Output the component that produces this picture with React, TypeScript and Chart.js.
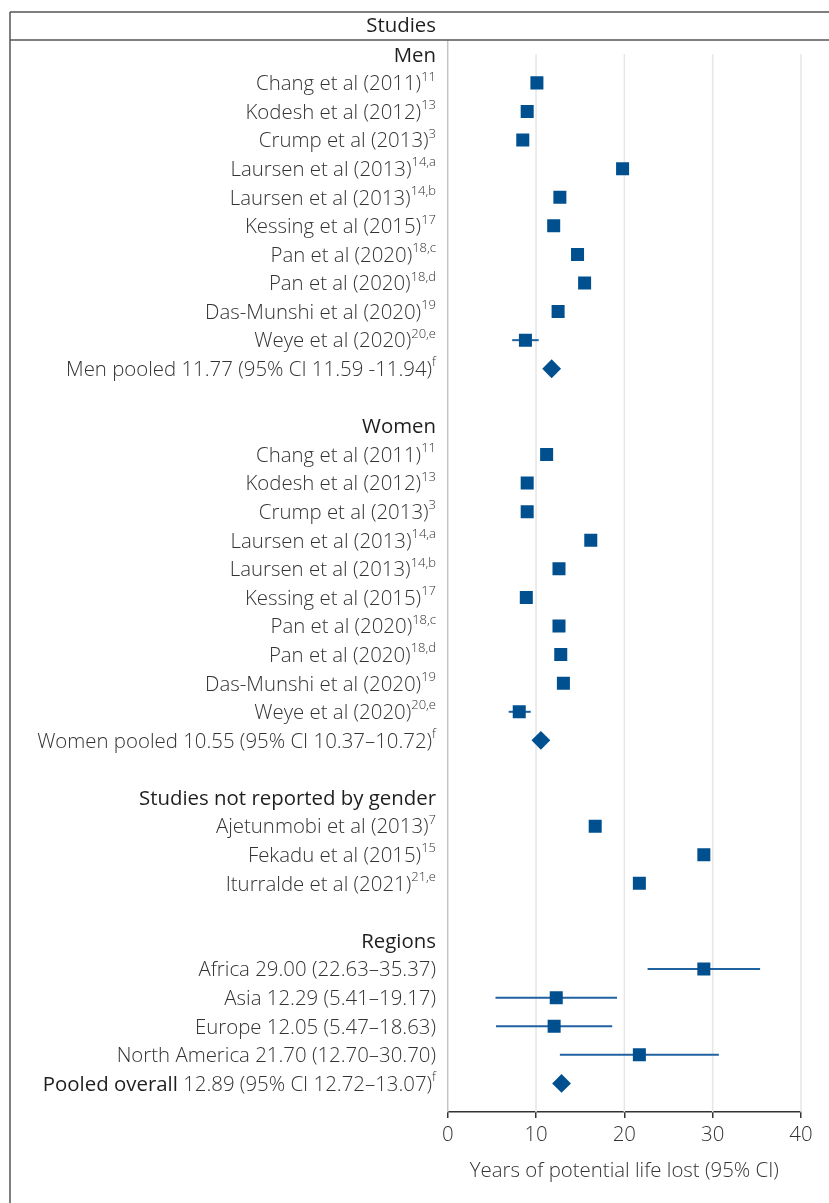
import React, { useEffect, useRef } from "react";
import { Chart, registerables } from "chart.js";
Chart.register(...registerables);

const W = 829;
const H = 1203;
const FAMILY = '"Open Sans", "DejaVu Sans", sans-serif';
const BLUE = "#00508F";
const CI_BLUE = "#2062A0";
const TEXT = "#333333";
const HEAD = "#1e1e1e";
const FS = 20.4;

// ---- data ----
const studyNames = [
  "Chang et al (2011)",
  "Kodesh et al (2012)",
  "Crump et al (2013)",
  "Laursen et al (2013)",
  "Laursen et al (2013)",
  "Kessing et al (2015)",
  "Pan et al (2020)",
  "Pan et al (2020)",
  "Das-Munshi et al (2020)",
  "Weye et al (2020)",
];
const studyRefs = ["11", "13", "3", "14,a", "14,b", "17", "18,c", "18,d", "19", "20,e"];

const menEst = [10.1, 9.0, 8.5, 19.8, 12.7, 12.0, 14.7, 15.5, 12.5, 8.8];
const menLow: (number | null)[] = [null, null, null, null, null, null, null, null, null, 7.3];
const menHigh: (number | null)[] = [null, null, null, null, null, null, null, null, null, 10.3];
const menPooled = [11.77, 11.59, 11.94];

const womenEst = [11.2, 9.0, 9.0, 16.2, 12.6, 8.9, 12.6, 12.8, 13.1, 8.1];
const womenLow: (number | null)[] = [null, null, null, null, null, null, null, null, null, 6.9];
const womenHigh: (number | null)[] = [null, null, null, null, null, null, null, null, null, 9.4];
const womenPooled = [10.55, 10.37, 10.72];

const otherNames = ["Ajetunmobi et al (2013)", "Fekadu et al (2015)", "Iturralde et al (2021)"];
const otherRefs = ["7", "15", "21,e"];
const otherEst = [16.7, 29.0, 21.7];

const regionNames = ["Africa", "Asia", "Europe", "North America"];
const regionEst = [29.0, 12.29, 12.05, 21.7];
const regionLow = [22.63, 5.41, 5.47, 12.7];
const regionHigh = [35.37, 19.17, 18.63, 30.7];
const overallPooled = [12.89, 12.72, 13.07];

const xTicks = [0, 10, 20, 30, 40];
const xTitle = "Years of potential life lost (95% CI)";

type Row = {
  label: string;
  sup?: string;
  strong?: string;
  header?: boolean;
  est?: number | null;
  lo?: number | null;
  hi?: number | null;
  marker?: "square" | "diamond";
};

function buildRows(): Row[] {
  const rows: Row[] = [];
  rows.push({ label: "Men", header: true });
  studyNames.forEach((n, i) =>
    rows.push({ label: n, sup: studyRefs[i], est: menEst[i], lo: menLow[i], hi: menHigh[i], marker: "square" })
  );
  rows.push({
    label: `Men pooled ${menPooled[0].toFixed(2)} (95% CI ${menPooled[1].toFixed(2)} -${menPooled[2].toFixed(2)})`,
    sup: "f",
    est: menPooled[0],
    marker: "diamond",
  });
  rows.push({ label: "" });
  rows.push({ label: "Women", header: true });
  studyNames.forEach((n, i) =>
    rows.push({ label: n, sup: studyRefs[i], est: womenEst[i], lo: womenLow[i], hi: womenHigh[i], marker: "square" })
  );
  rows.push({
    label: `Women pooled ${womenPooled[0].toFixed(2)} (95% CI ${womenPooled[1].toFixed(2)}–${womenPooled[2].toFixed(2)})`,
    sup: "f",
    est: womenPooled[0],
    marker: "diamond",
  });
  rows.push({ label: "" });
  rows.push({ label: "Studies not reported by gender", header: true });
  otherNames.forEach((n, i) => rows.push({ label: n, sup: otherRefs[i], est: otherEst[i], marker: "square" }));
  rows.push({ label: "" });
  rows.push({ label: "Regions", header: true });
  regionNames.forEach((n, i) =>
    rows.push({
      label: `${n} ${regionEst[i].toFixed(2)} (${regionLow[i].toFixed(2)}–${regionHigh[i].toFixed(2)})`,
      est: regionEst[i],
      lo: regionLow[i],
      hi: regionHigh[i],
      marker: "square",
    })
  );
  rows.push({
    strong: "Pooled overall",
    label: ` ${overallPooled[0].toFixed(2)} (95% CI ${overallPooled[1].toFixed(2)}–${overallPooled[2].toFixed(2)})`,
    sup: "f",
    est: overallPooled[0],
    marker: "diamond",
  });
  return rows;
}

export default function App() {
  const ref = useRef<HTMLCanvasElement>(null);

  useEffect(() => {
    if (!ref.current) return;
    const rows = buildRows();
    const squares = rows
      .map((r, i) => (r.marker === "square" ? { x: r.est as number, y: i } : null))
      .filter((p) => p !== null) as { x: number; y: number }[];
    const diamonds = rows
      .map((r, i) => (r.marker === "diamond" ? { x: r.est as number, y: i } : null))
      .filter((p) => p !== null) as { x: number; y: number }[];

    const LABEL_RIGHT = 436;
    const TEXT_DY = 1.5;
    const lightFont = (s: number) => `300 ${s}px ${FAMILY}`;
    const regFont = (s: number) => `400 ${s}px ${FAMILY}`;

    const forest = {
      id: "forest",
      beforeDatasetsDraw(chart: any) {
        const { ctx, chartArea, scales } = chart;
        const xs = scales.x;
        const ys = scales.y;
        ctx.save();
        ctx.strokeStyle = "#e6e6e6";
        ctx.lineWidth = 1.5;
        xTicks.slice(1).forEach((t) => {
          const px = xs.getPixelForValue(t);
          ctx.beginPath();
          ctx.moveTo(px, ys.getPixelForValue(0));
          ctx.lineTo(px, chartArea.bottom);
          ctx.stroke();
        });
        ctx.strokeStyle = "#c4c4c4";
        ctx.lineWidth = 1.5;
        const x0 = xs.getPixelForValue(0);
        ctx.beginPath();
        ctx.moveTo(x0, chartArea.top);
        ctx.lineTo(x0, chartArea.bottom);
        ctx.stroke();
        ctx.strokeStyle = CI_BLUE;
        ctx.lineWidth = 2;
        rows.forEach((r, i) => {
          if (r.lo == null || r.hi == null) return;
          const y = ys.getPixelForValue(i);
          ctx.beginPath();
          ctx.moveTo(xs.getPixelForValue(r.lo), y);
          ctx.lineTo(xs.getPixelForValue(r.hi), y);
          ctx.stroke();
        });
        ctx.restore();
      },
      afterDraw(chart: any) {
        const { ctx, scales } = chart;
        const ys = scales.y;
        ctx.save();
        ctx.strokeStyle = "#555555";
        ctx.lineWidth = 1.5;
        ctx.beginPath();
        ctx.moveTo(10, 12);
        ctx.lineTo(W, 12);
        ctx.moveTo(10, 40);
        ctx.lineTo(W, 40);
        ctx.moveTo(10, 12);
        ctx.lineTo(10, H);
        ctx.stroke();

        ctx.textBaseline = "middle";
        ctx.textAlign = "right";
        ctx.fillStyle = HEAD;
        ctx.font = regFont(FS);
        ctx.fillText("Studies", LABEL_RIGHT, 26.5);

        rows.forEach((r, i) => {
          if (!r.label && !r.strong) return;
          const y = ys.getPixelForValue(i) + TEXT_DY;
          let right = LABEL_RIGHT;
          if (r.sup) {
            ctx.font = lightFont(13);
            const sw = ctx.measureText(r.sup).width;
            ctx.fillStyle = TEXT;
            ctx.textAlign = "left";
            ctx.fillText(r.sup, right - sw, y - 7.5);
            right -= sw;
          }
          ctx.textAlign = "right";
          if (r.header) {
            ctx.font = regFont(FS);
            ctx.fillStyle = HEAD;
            ctx.fillText(r.label, right, y);
            return;
          }
          ctx.font = lightFont(FS);
          ctx.fillStyle = TEXT;
          ctx.fillText(r.label, right, y);
          if (r.strong) {
            const lw = ctx.measureText(r.label).width;
            ctx.font = regFont(FS);
            ctx.fillStyle = HEAD;
            ctx.fillText(r.strong, right - lw, y);
          }
        });
        ctx.restore();
      },
    };

    const chart = new Chart(ref.current, {
      type: "scatter",
      data: {
        datasets: [
          {
            data: squares,
            pointStyle: "rect",
            pointRadius: 9.2,
            pointBackgroundColor: BLUE,
            pointBorderColor: BLUE,
            pointBorderWidth: 0,
          },
          {
            data: diamonds,
            pointStyle: "rectRot",
            pointRadius: 9.4,
            pointBackgroundColor: BLUE,
            pointBorderColor: BLUE,
            pointBorderWidth: 0,
          },
        ],
      },
      options: {
        responsive: false,
        animation: false,
        devicePixelRatio: 1,
        events: [],
        layout: { padding: { left: 447.7, right: 28, top: 40, bottom: 0 } },
        plugins: { legend: { display: false }, tooltip: { enabled: false } },
        scales: {
          x: {
            type: "linear",
            min: 0,
            max: 40,
            afterBuildTicks: (s: any) => {
              s.ticks = xTicks.map((v) => ({ value: v }));
            },
            ticks: { font: { family: FAMILY, size: FS, weight: "300" }, color: TEXT, padding: 5 },
            grid: { drawOnChartArea: false, tickLength: 6, color: "#333333", lineWidth: 1.5 },
            border: { color: "#333333", width: 1.5 },
            title: {
              display: true,
              text: xTitle,
              font: { family: FAMILY, size: FS, weight: "300" },
              color: TEXT,
              padding: { top: 0, bottom: 20 },
            },
            afterFit: (s: any) => {
              s.height = 91;
            },
          },
          y: { type: "linear", display: false, min: -0.5, max: 37, reverse: true },
        },
      } as any,
      plugins: [forest],
    });
    return () => chart.destroy();
  }, []);

  return (
    <div style={{ position: "absolute", left: 0, top: 0, width: W, height: H, background: "#fff" }}>
      <canvas ref={ref} width={W} height={H} style={{ display: "block", width: W, height: H }} />
    </div>
  );
}
